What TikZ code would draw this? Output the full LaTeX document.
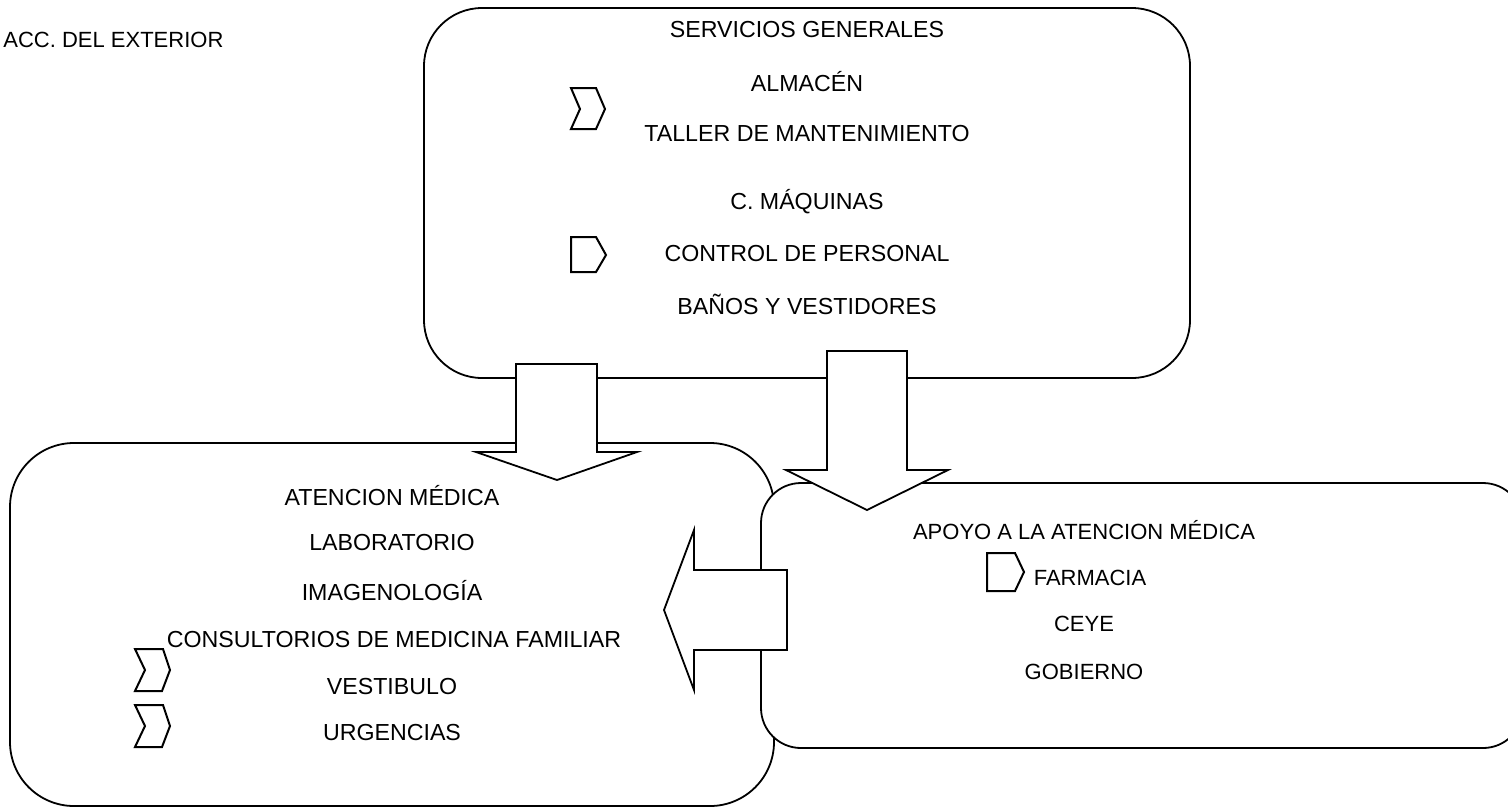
\documentclass[tikz,border=0pt]{standalone}
\usepackage{fontspec}
\setmainfont{Liberation Sans}
\usetikzlibrary{positioning}
\tikzset{
  grp/.style={draw,line width=0.9pt,fill=white,inner sep=0pt},
  blkar/.style={draw,line width=0.9pt,fill=white,line join=miter},
  mk/.style={draw,line width=1pt,line join=miter},
  lbl/.style={font=\fontsize{11.6}{14}\selectfont,inner sep=0pt},
  sml/.style={font=\fontsize{11}{13}\selectfont,inner sep=0pt},
  hd/.style={lbl}
}

\begin{document}
\begin{tikzpicture}[x=0.5pt,y=-0.5pt]
\useasboundingbox (0,0) rectangle (1508,810);

% groups
\node[grp,rounded corners=29pt,minimum width=383pt,minimum height=185pt] (sg) at (807,193) {};
\node[grp,rounded corners=32pt,minimum width=382pt,minimum height=181.5pt] (am) at (392,624.5) {};
\node[grp,rounded corners=20pt,minimum width=381pt,minimum height=132.5pt] (ap) at (1142,615.5) {};

% block arrows
\draw[blkar] (516,364) -- (597,364) -- (597,452) -- (637,452) -- (557,480) -- (476,452) -- (516,452) -- cycle;
\draw[blkar] (827,351) -- (907,351) -- (907,470) -- (948,470) -- (867,510) -- (786,470) -- (827,470) -- cycle;
\draw[blkar] (787,570) -- (787,650) -- (694,650) -- (694,690) -- (664,610) -- (694,530) -- (694,570) -- cycle;

% texts
\node[sml,anchor=west] (acc) at (3,40) {ACC. DEL EXTERIOR};

\node[hd] (sgh) at (807,30) {SERVICIOS GENERALES};
\node[lbl] (alm) at (807,82) {ALMACÉN};
\node[lbl] (tal) at (807,134) {TALLER DE MANTENIMIENTO};
\node[lbl] (maq) at (807,202) {C. MÁQUINAS};
\node[lbl] (cp) at (807,254) {CONTROL DE PERSONAL};
\node[lbl] (bv) at (807,304) {BAÑOS Y VESTIDORES};

\node[hd] (amh) at (392,496) {ATENCION MÉDICA};
\node[lbl] (lab) at (392,542) {LABORATORIO};
\node[lbl] (img) at (392,591) {IMAGENOLOGÍA};
\node[lbl] (cmf) at (394,639) {CONSULTORIOS DE MEDICINA FAMILIAR};
\node[lbl] (vest) at (392,686) {VESTIBULO};
\node[lbl] (urg) at (392,732) {URGENCIAS};

\node[sml] (aph) at (1084,530) {APOYO A LA ATENCION MÉDICA};
\node[sml] (far) at (1090,578) {FARMACIA};
\node[sml] (ceye) at (1084,624) {CEYE};
\node[sml] (gob) at (1084,672) {GOBIERNO};

% marks
\draw[mk] (571,88) -- (596,88) -- (605,109) -- (596,129) -- (571,129) -- (580,109) -- cycle;
\draw[mk] (571,237) -- (596,237) -- (606,255) -- (596,272) -- (571,272) -- cycle;
\draw[mk] (987,553) -- (1015,553) -- (1024,572) -- (1015,591) -- (987,591) -- cycle;
\foreach \y in {649,705}
  \draw[mk] (135,\y) -- (163,\y) -- (170,\y+21) -- (162,\y+42) -- (135,\y+42) -- (145,\y+21) -- cycle;
\end{tikzpicture}
\end{document}
